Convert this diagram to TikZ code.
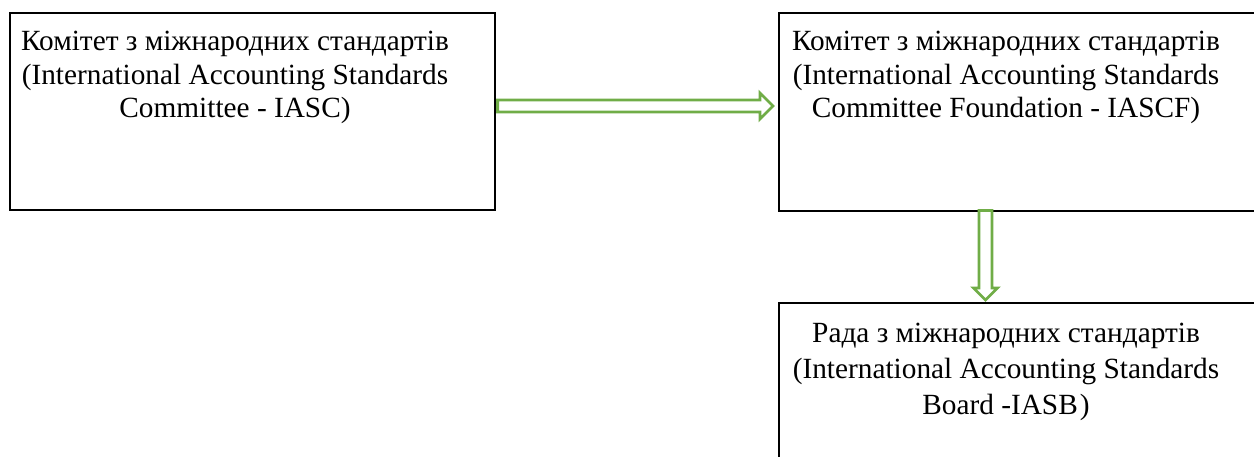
\documentclass[tikz,border=0pt]{standalone}
\usepackage{fontspec}
\setmainfont{Liberation Serif}
\usetikzlibrary{calc}
\definecolor{arrowgreen}{HTML}{70AD47}
\tikzset{
  box/.style={draw=black, line width=1.6pt, fill=white, rectangle, inner sep=0pt},
  boxtext/.style={inner sep=0pt, align=center, font=\fontsize{29.3}{33.5}\selectfont},
  boxtextwide/.style={inner sep=0pt, align=center, font=\fontsize{29.3}{36}\selectfont},
  blockarrow/.style={draw=arrowgreen, line width=2.8pt, fill=white, line join=miter}
}
\begin{document}
\begin{tikzpicture}[x=1pt,y=-1pt]
\useasboundingbox (0,0) rectangle (1254,457);
\clip (0,0) rectangle (1254,457);
\node[box, minimum width=485pt, minimum height=197pt, anchor=north west] (b1) at (9,12) {};
\node[box, minimum width=490pt, minimum height=198pt, anchor=north west] (b2) at (778,12) {};
\node[box, minimum width=490pt, minimum height=170pt, anchor=north west] (b3) at (778,302) {};
\node[boxtext, anchor=north] (t1) at (235,31) {Комітет з міжнародних стандартів\\(International Accounting Standards\\Committee - IASC)};
\node[boxtext, anchor=north] (t2) at (1006,31) {Комітет з міжнародних стандартів\\(International Accounting Standards\\Committee Foundation - IASCF)};
\node[boxtextwide, anchor=north] (t3) at (1006,323) {Рада з міжнародних стандартів\\(International Accounting Standards\\Board -IASB\kern2pt)};
% horizontal block arrow
\coordinate (a1s) at ($(b1.north east)+(2,94)$);
\coordinate (a1e) at ($(b2.north west)+(-5,94)$);
\draw[blockarrow] ($(a1s)+(0,-6)$) -- ($(a1e)+(-13,-6)$) -- ($(a1e)+(-13,-13)$) -- (a1e)
  -- ($(a1e)+(-13,13)$) -- ($(a1e)+(-13,6)$) -- ($(a1s)+(0,6)$) -- cycle;
% vertical block arrow
\coordinate (a2s) at ($(b2.south west)+(207.5,-1)$);
\coordinate (a2e) at ($(b3.north west)+(207.5,-2)$);
\draw[blockarrow] ($(a2s)+(-6.5,0)$) -- ($(a2e)+(-6.5,-12)$) -- ($(a2e)+(-12,-12)$) -- (a2e)
  -- ($(a2e)+(12,-12)$) -- ($(a2e)+(6.5,-12)$) -- ($(a2s)+(6.5,0)$) -- cycle;
\end{tikzpicture}
\end{document}
